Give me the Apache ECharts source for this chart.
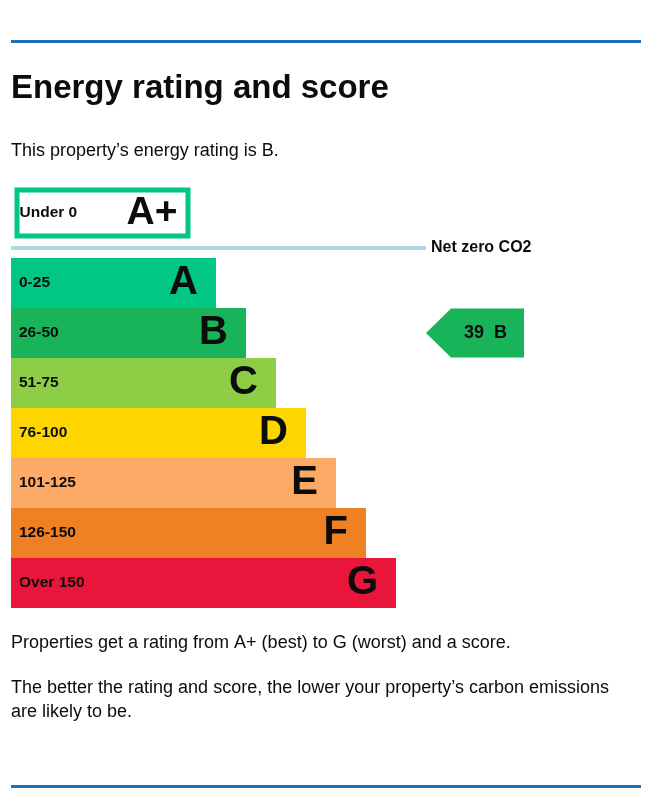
<!DOCTYPE html>
<html>
<head>
<meta charset="utf-8">
<script src="https://cdn.jsdelivr.net/npm/echarts@6/dist/echarts.min.js"></script>
<style>
html,body{margin:0;padding:0;background:#fff;}
#chart{width:650px;height:802px;}
</style>
</head>
<body>
<div id="chart"></div>
<script>
// ---- data ----
const ratingBands = ['A', 'B', 'C', 'D', 'E', 'F', 'G'];
const scoreRanges = ['0-25', '26-50', '51-75', '76-100', '101-125', '126-150', 'Over 150'];
const bandLengths = [41, 47, 53, 59, 65, 71, 77];      // relative bar lengths
const topBands = ['A+'];
const topRanges = ['Under 0'];
const topLengths = [35.2];
const propertyScore = 39;
const propertyRating = 'B';
const arrowPos = [92.8];                                 // horizontal slot of the score arrow

const bandColors = ['#00c781', '#19b459', '#8dce46', '#ffd500', '#fcaa65', '#ef8023', '#e9153b'];
const FONT = '"Liberation Sans", Arial, sans-serif';
const TEXT = '#0b0c0c';

const chart = echarts.init(document.getElementById('chart'), null, {renderer: 'canvas'});

const option = {
  animation: false,
  backgroundColor: '#ffffff',
  grid: [
    {left: 14.5, top: 187.5, width: 630, height: 51},
    {left: 11, top: 258, width: 630, height: 350}
  ],
  xAxis: [
    {gridIndex: 0, type: 'value', min: 0, max: 126, show: false},
    {gridIndex: 1, type: 'value', min: 0, max: 126, show: false}
  ],
  yAxis: [
    {gridIndex: 0, type: 'category', data: topBands, inverse: true, show: false},
    {gridIndex: 1, type: 'category', data: ratingBands, inverse: true, show: false}
  ],
  series: [
    {
      type: 'bar', xAxisIndex: 0, yAxisIndex: 0,
      barCategoryGap: 0, barGap: '-100%',
      data: topLengths,
      itemStyle: {color: '#ffffff', borderColor: '#00c781', borderWidth: 5},
      label: {
        show: true, position: 'insideLeft', distance: 5,
        formatter: p => topRanges[p.dataIndex],
        fontFamily: FONT, fontWeight: 'bold', fontSize: 15.5, color: TEXT
      }
    },
    {
      type: 'bar', xAxisIndex: 0, yAxisIndex: 0,
      barCategoryGap: 0, barGap: '-100%',
      data: topLengths,
      itemStyle: {color: 'rgba(0,0,0,0)'},
      label: {
        show: true, position: 'insideRight', distance: 13,
        formatter: p => topBands[p.dataIndex],
        fontFamily: FONT, fontWeight: 'bold', fontSize: 39, color: TEXT
      }
    },
    {
      type: 'bar', xAxisIndex: 1, yAxisIndex: 1,
      barCategoryGap: 0, barGap: '-100%',
      data: bandLengths.map((v, i) => ({value: v, itemStyle: {color: bandColors[i]}})),
      label: {
        show: true, position: 'insideLeft', distance: 8,
        formatter: p => scoreRanges[p.dataIndex],
        fontFamily: FONT, fontWeight: 'bold', fontSize: 15.5, color: TEXT
      }
    },
    {
      type: 'bar', xAxisIndex: 1, yAxisIndex: 1,
      barCategoryGap: 0, barGap: '-100%',
      data: bandLengths,
      itemStyle: {color: 'rgba(0,0,0,0)'},
      label: {
        show: true, position: 'insideRight', distance: 18,
        formatter: p => ratingBands[p.dataIndex],
        fontFamily: FONT, fontWeight: 'bold', fontSize: 40, color: TEXT
      }
    },
    {
      type: 'scatter', xAxisIndex: 1, yAxisIndex: 1,
      data: [[arrowPos[0], propertyRating]],
      symbol: 'path://M0,24.5L25,0L98,0L98,49L25,49Z',
      symbolSize: [98, 49],
      itemStyle: {color: bandColors[ratingBands.indexOf(propertyRating)], opacity: 1},
      label: {
        show: true, position: 'inside', offset: [10.5, 0],
        formatter: () => propertyScore + '  ' + propertyRating,
        fontFamily: FONT, fontWeight: 'bold', fontSize: 18, color: TEXT
      },
      z: 5
    }
  ],
  graphic: [
    {type: 'rect', shape: {x: 11, y: 40, width: 630, height: 3}, style: {fill: '#1d70b8'}},
    {type: 'rect', shape: {x: 11, y: 785, width: 630, height: 3}, style: {fill: '#1d70b8'}},
    {type: 'rect', shape: {x: 11, y: 246, width: 415, height: 4}, style: {fill: '#add8e6'}},
    {type: 'text', x: 11, y: 89, style: {text: 'Energy rating and score', fill: TEXT,
      font: 'bold 33px ' + FONT, textVerticalAlign: 'middle'}},
    {type: 'text', x: 11, y: 151, style: {text: 'This property\u2019s energy rating is B.', fill: TEXT,
      font: '18px ' + FONT, textVerticalAlign: 'middle'}},
    {type: 'text', x: 431, y: 248, style: {text: 'Net zero CO2', fill: TEXT,
      font: 'bold 16px ' + FONT, textVerticalAlign: 'middle'}},
    {type: 'text', x: 11, y: 643, style: {text: 'Properties get a rating from A+ (best) to G (worst) and a score.', fill: TEXT,
      font: '18px ' + FONT, textVerticalAlign: 'middle'}},
    {type: 'text', x: 11, y: 688, style: {text: 'The better the rating and score, the lower your property\u2019s carbon emissions', fill: TEXT,
      font: '18px ' + FONT, textVerticalAlign: 'middle'}},
    {type: 'text', x: 11, y: 712, style: {text: 'are likely to be.', fill: TEXT,
      font: '18px ' + FONT, textVerticalAlign: 'middle'}}
  ]
};
chart.setOption(option);
</script>
</body>
</html>
